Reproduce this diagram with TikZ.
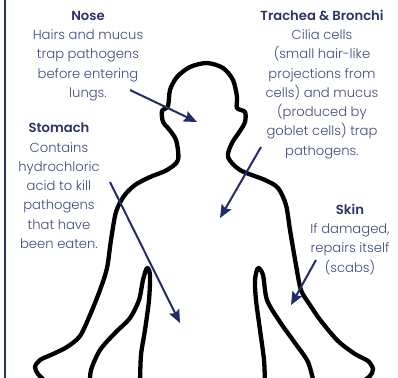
\documentclass[tikz,border=0pt]{standalone}
\usepackage{fontspec}
\IfFontExistsTF{Poppins Light}
  {\setmainfont{Poppins Light}[BoldFont={Poppins SemiBold}]}
  {\setmainfont{Poppins}}
\usetikzlibrary{arrows.meta,positioning}
\definecolor{cText}{HTML}{3E4A80}
\definecolor{cHead}{HTML}{2B3366}
\definecolor{cArrow}{HTML}{232C6B}
\definecolor{cRule}{HTML}{2A3170}
\newcommand{\organ}[1]{\textcolor{cHead}{\bfseries #1}}

\begin{document}
\begin{tikzpicture}[
  x=1bp, y=-1bp,
  font=\fontsize{13.2}{19.3}\selectfont,
  note/.style={align=center, text=cText, inner sep=0pt, anchor=north},
  pointer/.style={-{Stealth[length=13bp,width=11bp,inset=2bp]}, draw=cArrow, line width=2bp},
  outline/.style={draw=black, line width=4.3bp, line join=round, line cap=round},
]
\useasboundingbox (0,0) rectangle (398,378);
\clip (0,0) rectangle (398,378);

% ---- left rule ----
\draw[cRule, line width=2bp] (5,0) -- (5,378);

% ---- body silhouette ----
\draw[outline] plot[smooth, tension=0.5] coordinates {
  (46,382) (38,374) (35,367) (40,360) (53,354) (67,347) (80,336) (90,315)
  (100,290) (107,268) (111,240) (116,212) (124,196) (135,185) (150,177)
  (167,170) (178,160) (176,140) (168,128) (163,122) (162,111) (168,106)
  (170,90) (177,77) (190,67) (207,63) (223,68) (233,80) (237,97) (237,108)
  (245,112) (245,122) (240,131) (232,143) (228,157) (240,170) (265,180)
  (278,188) (286,205) (290,230) (296,265) (301,290) (310,305) (321,321)
  (338,341) (355,354) (368,361) (373,369) (370,376) (362,382)};
% inner arm and torso, left
\draw[outline] plot[smooth, tension=0.5] coordinates {
  (90,384) (91,370) (100,350) (115,333) (130,318) (139,300) (143,280)
  (147,268) (150,275) (149,300) (145,330) (141,355) (140,384)};
% inner arm and torso, right
\draw[outline] plot[smooth, tension=0.5] coordinates {
  (265,384) (264,360) (260,330) (256,300) (255,280) (258,268) (263,275)
  (267,300) (280,322) (295,343) (308,362) (314,384)};

% ---- labels ----
\node[note] (nose) at (88,11)
  {\organ{Nose}\\Hairs and mucus\\trap pathogens\\before entering\\lungs.};
\node[note] (stomach) at (59,123)
  {\organ{Stomach}\\Contains\\hydrochloric\\acid to kill\\pathogens\\that have\\been eaten.};
\node[note] (trachea) at (322,10)
  {\organ{Trachea \& Bronchi}\\Cilia cells\\(small hair-like\\projections from\\cells) and mucus\\(produced by\\goblet cells) trap\\pathogens.};
\node[note] (skin) at (350,204)
  {\organ{Skin}\\If damaged,\\repairs itself\\(scabs)};

% ---- pointers ----
\coordinate (noseFrom) at (130,90);
\coordinate (noseTo) at (197,122);
\coordinate (stomachFrom) at (110,182);
\coordinate (stomachTo) at (180,323);
\coordinate (tracheaFrom) at (261,147);
\coordinate (tracheaTo) at (220,218);
\coordinate (skinFrom) at (316,260);
\coordinate (skinTo) at (291,305);

\draw[pointer] (noseFrom) -- (noseTo);
\draw[pointer] (stomachFrom) -- (stomachTo);
\draw[pointer] (tracheaFrom) -- (tracheaTo);
\draw[pointer] (skinFrom) -- (skinTo);
\end{tikzpicture}
\end{document}
